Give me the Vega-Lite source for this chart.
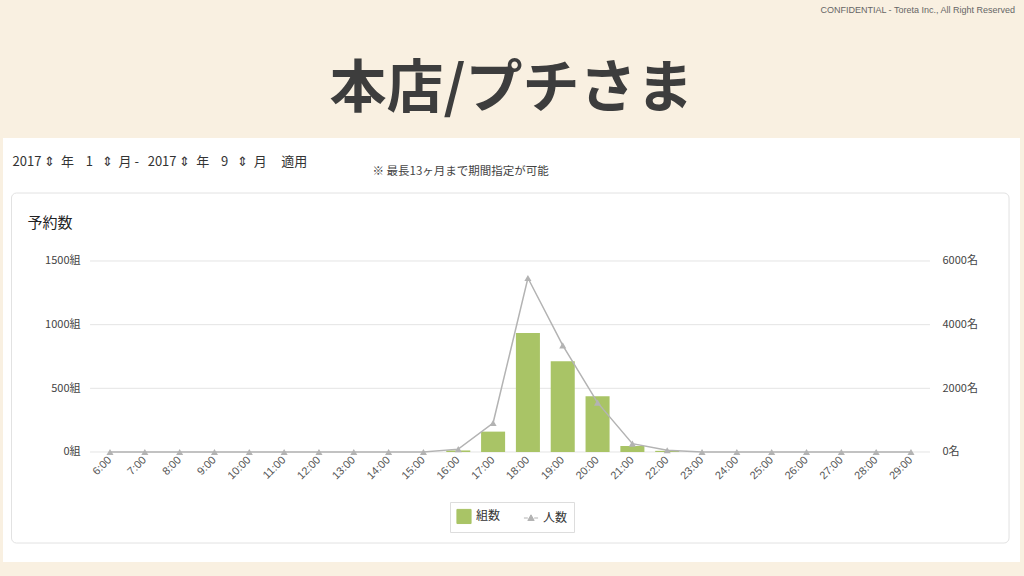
{
  "$schema": "https://vega.github.io/schema/vega-lite/v6.json",
  "background": "#f9f0e1",
  "padding": {"left": 3, "right": 4, "top": 6, "bottom": 14},
  "config": {"view": {"fill": "white", "stroke": null}, "font": "Noto Sans CJK JP"},
  "title": {"text": "CONFIDENTIAL - Toreta Inc., All Right Reserved", "anchor": "end", "fontSize": 9, "font": "Liberation Sans", "fontWeight": "normal", "color": "#666666", "dx": -5, "offset": 46},
  "vconcat": [
    {
      "width": 1017,
      "height": 424,
      "title": {"text": "本店/プチさま", "fontSize": 57, "fontWeight": "bold", "color": "#3d3d3d", "anchor": "middle", "offset": 19, "font": "Noto Sans CJK JP"},
      "data": {"values": [
        {"hour": "6:00", "groups": 0, "people": 0},
        {"hour": "7:00", "groups": 0, "people": 0},
        {"hour": "8:00", "groups": 0, "people": 0},
        {"hour": "9:00", "groups": 0, "people": 0},
        {"hour": "10:00", "groups": 0, "people": 0},
        {"hour": "11:00", "groups": 0, "people": 0},
        {"hour": "12:00", "groups": 0, "people": 0},
        {"hour": "13:00", "groups": 0, "people": 0},
        {"hour": "14:00", "groups": 0, "people": 0},
        {"hour": "15:00", "groups": 0, "people": 0},
        {"hour": "16:00", "groups": 12, "people": 90},
        {"hour": "17:00", "groups": 160, "people": 910},
        {"hour": "18:00", "groups": 934, "people": 5465},
        {"hour": "19:00", "groups": 712, "people": 3350},
        {"hour": "20:00", "groups": 437, "people": 1550},
        {"hour": "21:00", "groups": 47, "people": 262},
        {"hour": "22:00", "groups": 9, "people": 53},
        {"hour": "23:00", "groups": 0, "people": 0},
        {"hour": "24:00", "groups": 0, "people": 0},
        {"hour": "25:00", "groups": 0, "people": 0},
        {"hour": "26:00", "groups": 0, "people": 0},
        {"hour": "27:00", "groups": 0, "people": 0},
        {"hour": "28:00", "groups": 0, "people": 0},
        {"hour": "29:00", "groups": 0, "people": 0}
      ]},
      "layer": [
        {
          "layer": [
            {
              "data": {"values": [{"card": 1}]},
              "mark": {"type": "rect", "fill": null, "fillOpacity": 0, "stroke": "#e2e2e2", "strokeWidth": 1, "cornerRadius": 5},
              "encoding": {
                "x": {"datum": "6:00", "type": "ordinal", "bandPosition": -3.6},
                "x2": {"datum": "29:00", "bandPosition": 4.58},
                "y": {"datum": 2034, "type": "quantitative", "scale": {"domain": [-864, 2466], "nice": false, "zero": false}},
                "y2": {"datum": -715}
              }
            },
            {
              "data": {"values": [{"v": 0}, {"v": 500}, {"v": 1000}, {"v": 1500}]},
              "mark": {"type": "rule", "color": "#e4e4e4", "strokeWidth": 1},
              "encoding": {
                "x": {"datum": "6:00", "type": "ordinal", "bandPosition": -0.33},
                "x2": {"datum": "29:00", "bandPosition": 1.29},
                "y": {"field": "v", "type": "quantitative", "scale": {"domain": [-864, 2466], "nice": false, "zero": false}}
              }
            },
            {
              "mark": {"type": "bar"},
              "encoding": {
                "x": {
                  "field": "hour", "type": "ordinal", "sort": null,
                  "scale": {"domain": ["6:00","7:00","8:00","9:00","10:00","11:00","12:00","13:00","14:00","15:00","16:00","17:00","18:00","19:00","20:00","21:00","22:00","23:00","24:00","25:00","26:00","27:00","28:00","29:00"], "range": [87.5, 927.5], "paddingInner": 0.31, "paddingOuter": 0.215},
                  "axis": {
                    "title": "※ 最長13ヶ月まで期間指定が可能", "titleFontSize": 11.5, "titleFontWeight": "normal", "titleColor": "#444444",
                    "titleX": 369, "titleY": -281, "titleAlign": "left", "titleBaseline": "middle", "titleAngle": 0,
                    "offset": -110, "labelAngle": -45, "labelAlign": "right", "labelBaseline": "middle",
                    "labelFontSize": 11, "labelColor": "#555555", "labelPadding": 6, "labelFont": "Liberation Sans",
                    "ticks": false, "domain": false, "grid": false
                  }
                },
                "y": {
                  "field": "groups", "type": "quantitative",
                  "scale": {"domain": [-864, 2466], "nice": false, "zero": false},
                  "axis": {
                    "title": "予約数", "titleAngle": 0, "titleX": -63, "titleY": 84, "titleAlign": "left", "titleBaseline": "middle",
                    "titleFontSize": 15, "titleFontWeight": "normal", "titleColor": "#222222",
                    "values": [0, 500, 1000, 1500], "labelExpr": "datum.value + '組'",
                    "offset": -87, "grid": false, "ticks": false, "domain": false,
                    "labelFontSize": 11, "labelColor": "#444444", "labelPadding": 10
                  }
                },
                "y2": {"datum": 0},
                "color": {
                  "datum": "組数",
                  "scale": {"domain": ["組数", "人数"], "range": ["#a9c466", "#b3b3b3"]},
                  "legend": {
                    "title": null, "orient": "none", "legendX": 447, "legendY": 364, "direction": "horizontal",
                    "padding": 6, "strokeColor": "#dddddd", "fillColor": "white",
                    "labelFontSize": 12, "labelColor": "#333333", "symbolSize": 200, "columnPadding": 20,
                    "symbolType": "square",
                    "encode": {"symbols": {"update": {
                      "shape": {"signal": "datum.value === '人数' ? 'M-1,0H-0.45M0.45,0H1M-0.45,0.35L0,-0.45L0.45,0.35Z' : 'square'"},
                      "stroke": {"signal": "datum.value === '人数' ? '#aaaaaa' : null"},
                      "strokeWidth": {"value": 1}
                    }}}
                  }
                }
              }
            }
          ]
        },
        {
          "mark": {"type": "line", "strokeWidth": 1.5, "point": {"shape": "triangle-up", "filled": true, "size": 50}},
          "encoding": {
            "x": {"field": "hour", "type": "ordinal", "sort": null},
            "y": {
              "field": "people", "type": "quantitative",
              "scale": {"domain": [-3456, 9864], "nice": false, "zero": false},
              "axis": {
                "orient": "right",
                "title": "2017 ⇕\u00a0\u00a0年\u00a0\u00a0\u00a0 1\u00a0\u00a0 ⇕\u00a0\u00a0月 -\u00a0\u00a0 2017 ⇕\u00a0\u00a0年\u00a0\u00a0\u00a0 9\u00a0\u00a0 ⇕\u00a0\u00a0月\u00a0\u00a0\u00a0\u00a0 適用",
                "titleAngle": 0, "titleX": -918, "titleY": 23, "titleAlign": "left", "titleBaseline": "middle",
                "titleFontSize": 13, "titleFontWeight": "normal", "titleColor": "#333333",
                "values": [0, 2000, 4000, 6000], "labelExpr": "datum.value + '名'",
                "offset": -90, "grid": false, "ticks": false, "domain": false,
                "labelFontSize": 11, "labelColor": "#444444", "labelPadding": 12
              }
            },
            "color": {"datum": "人数"}
          }
        }
      ],
      "resolve": {"scale": {"y": "independent"}}
    }
  ]
}
